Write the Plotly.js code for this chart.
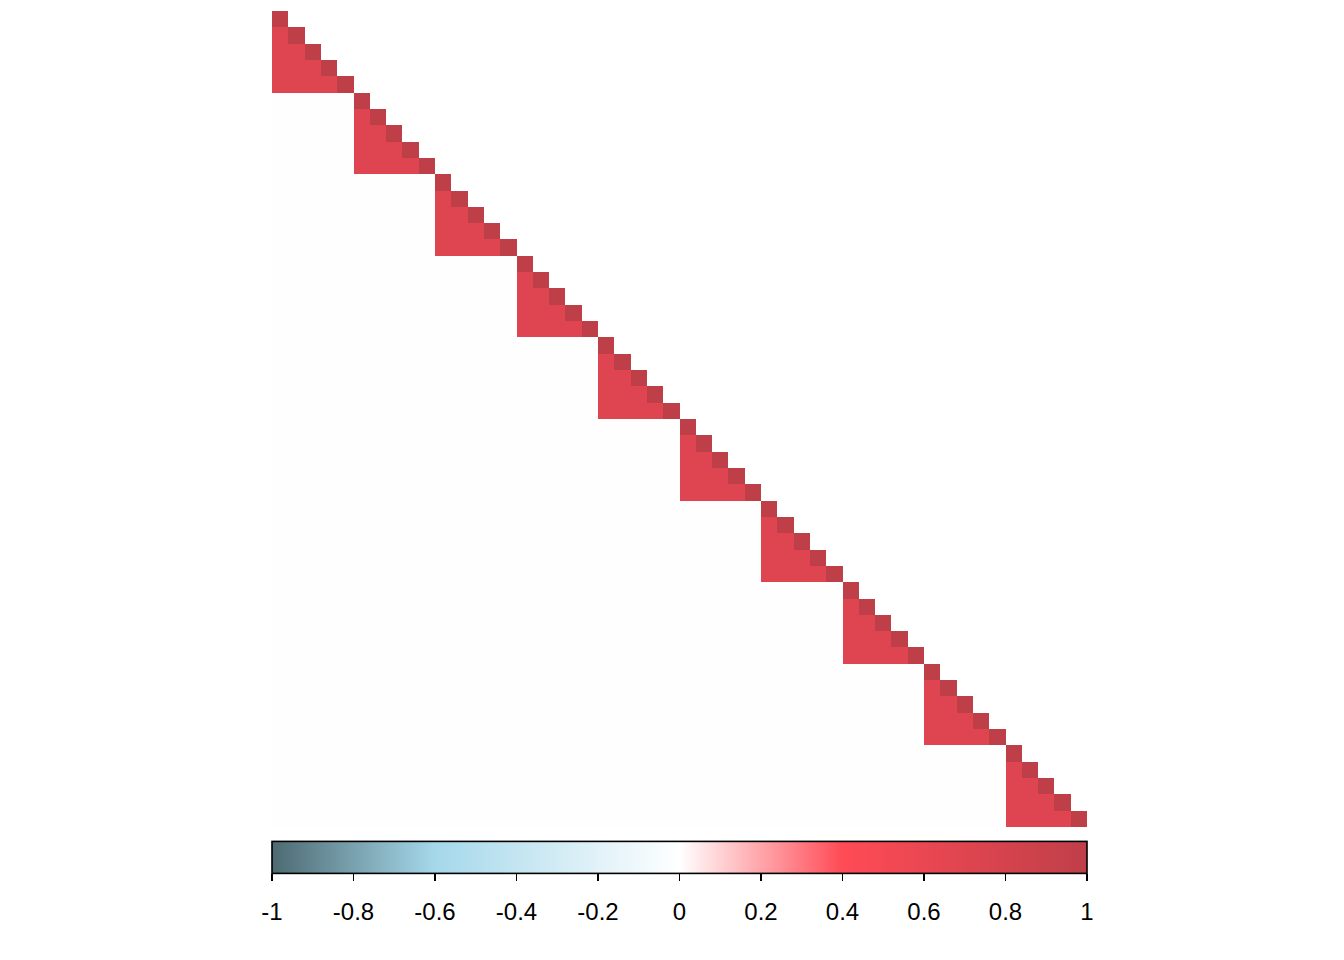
<!DOCTYPE html>
<html>
<head>
<meta charset="utf-8">
<script src="https://cdn.plot.ly/plotly-3.0.1.min.js"></script>
<style>html,body{margin:0;padding:0;background:#fff;}#chart{width:1344px;height:960px;}</style>
</head>
<body>
<div id="chart"></div>
<script>
// Variable names (50 variables, 10 blocks of 5)
const varNames = ['V1','V2','V3','V4','V5','V6','V7','V8','V9','V10',
  'V11','V12','V13','V14','V15','V16','V17','V18','V19','V20',
  'V21','V22','V23','V24','V25','V26','V27','V28','V29','V30',
  'V31','V32','V33','V34','V35','V36','V37','V38','V39','V40',
  'V41','V42','V43','V44','V45','V46','V47','V48','V49','V50'];
// Block membership of each variable
const blockOf = [0,0,0,0,0,1,1,1,1,1,2,2,2,2,2,3,3,3,3,3,4,4,4,4,4,
  5,5,5,5,5,6,6,6,6,6,7,7,7,7,7,8,8,8,8,8,9,9,9,9,9];
// Within-block correlation per block
const blockCorr = [0.7,0.7,0.7,0.7,0.7,0.7,0.7,0.7,0.7,0.7];
// Correlation between variables of different blocks (near zero)
const offBlockCorr = 0.002;
const diagCorr = 1.0;
// Colour bar ticks
const tickValues = [-1,-0.8,-0.6,-0.4,-0.2,0,0.2,0.4,0.6,0.8,1];
const tickLabels = ['-1','-0.8','-0.6','-0.4','-0.2','0','0.2','0.4','0.6','0.8','1'];

// Build lower-triangular correlation matrix
const z = varNames.map((_, i) => varNames.map((__, j) => {
  if (j > i) return null;
  if (i === j) return diagCorr;
  return blockOf[i] === blockOf[j] ? blockCorr[blockOf[i]] : offBlockCorr;
}));

const colorscale = [
  [0, '#4D6A72'],
  [0.2, '#A5D8EA'],
  [0.5, '#FFFFFF'],
  [0.7, '#FF4B56'],
  [1, '#BF3F49']
];

const trace = {
  type: 'heatmap',
  x: varNames,
  y: varNames,
  z: z,
  zmin: -1, zmax: 1,
  colorscale: colorscale,
  hoverongaps: false,
  colorbar: {
    orientation: 'h',
    x: 0.5, xanchor: 'center',
    y: -2/862, yanchor: 'bottom',
    len: 1, lenmode: 'fraction',
    xpad: 0, ypad: 0,
    thickness: 32,
    outlinecolor: '#000', outlinewidth: 1.6,
    showticklabels: false,
    ticks: ''
  }
};

// empty trace so that the colour-bar scale axis (x2) is drawn
const scaleAxisTrace = {type: 'scatter', mode: 'none', x: [], y: [], xaxis: 'x2', yaxis: 'y', hoverinfo: 'skip', showlegend: false};

const font = {family: 'Liberation Sans, Arial, sans-serif', size: 24, color: '#000'};

const layout = {
  width: 1344, height: 960,
  margin: {l: 272, r: 257, t: 11, b: 87, pad: 0},
  paper_bgcolor: '#fff', plot_bgcolor: '#fff',
  font: font,
  showlegend: false,
  xaxis: {visible: false, showgrid: false, zeroline: false, type: 'category'},
  yaxis: {visible: false, showgrid: false, zeroline: false, type: 'category',
          autorange: 'reversed', domain: [46/862, 1]},
  xaxis2: {
    overlaying: 'x', anchor: 'free', position: 0, side: 'bottom',
    type: 'linear', range: [-1, 1], autorange: false,
    showgrid: false, zeroline: false, showline: false,
    tickmode: 'array', tickvals: tickValues, ticktext: tickLabels,
    ticks: 'outside', ticklen: 7, tickwidth: 1.6, tickcolor: '#000',
    ticklabelstandoff: 10,
    tickfont: font
  }
};

Plotly.newPlot('chart', [trace, scaleAxisTrace], layout, {displayModeBar: false, staticPlot: true});
</script>
</body>
</html>
